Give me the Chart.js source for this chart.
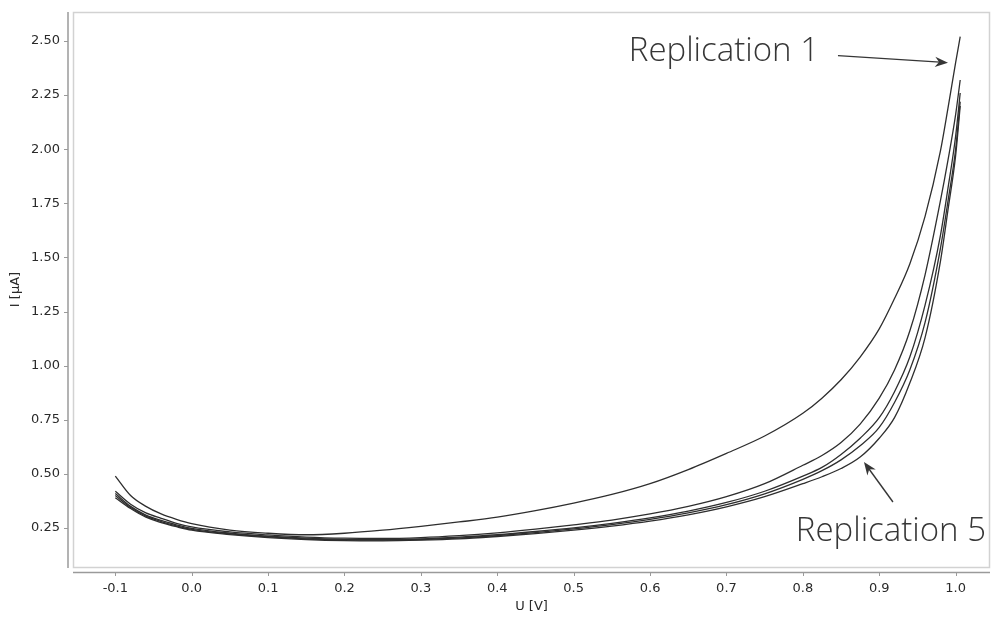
<!DOCTYPE html>
<html>
<head>
<meta charset="utf-8">
<script src="https://cdn.jsdelivr.net/npm/chart.js@4"></script>
<style>
  html, body { margin: 0; padding: 0; background: #fff; }
  #wrap { width: 992px; height: 617px; }
</style>
</head>
<body>
<div id="wrap"><canvas id="grafico"></canvas></div>
<script>
// U [V] grid shared by all replications
const tensao = [-0.1, -0.08, -0.06, -0.04, -0.02, 0.0, 0.05, 0.1, 0.15, 0.2, 0.25, 0.3, 0.35, 0.4, 0.45, 0.5, 0.55, 0.6, 0.65, 0.7, 0.75, 0.8, 0.825, 0.85, 0.875, 0.9, 0.92, 0.94, 0.96, 0.98, 0.99, 1.0, 1.006]

// I [uA] per replication
const rep1 = [0.49, 0.40, 0.35, 0.315, 0.29, 0.27, 0.24, 0.226, 0.219, 0.226, 0.24, 0.258, 0.278, 0.30, 0.33, 0.365, 0.405, 0.455, 0.52, 0.595, 0.675, 0.78, 0.85, 0.935, 1.04, 1.17, 1.31, 1.47, 1.69, 1.99, 2.19, 2.40, 2.52]
const rep2 = [0.42, 0.36, 0.32, 0.295, 0.272, 0.255, 0.232, 0.218, 0.208, 0.203, 0.202, 0.206, 0.215, 0.228, 0.245, 0.265, 0.287, 0.315, 0.35, 0.395, 0.455, 0.54, 0.585, 0.645, 0.73, 0.85, 0.98, 1.16, 1.42, 1.76, 1.95, 2.16, 2.32]
const rep3 = [0.41, 0.35, 0.31, 0.285, 0.265, 0.248, 0.226, 0.212, 0.203, 0.198, 0.197, 0.20, 0.208, 0.219, 0.234, 0.251, 0.272, 0.297, 0.328, 0.368, 0.42, 0.49, 0.53, 0.59, 0.665, 0.76, 0.88, 1.04, 1.28, 1.60, 1.82, 2.06, 2.26]
const rep4 = [0.40, 0.345, 0.305, 0.28, 0.26, 0.244, 0.223, 0.209, 0.20, 0.195, 0.194, 0.197, 0.204, 0.215, 0.229, 0.246, 0.266, 0.29, 0.32, 0.358, 0.408, 0.475, 0.515, 0.565, 0.63, 0.715, 0.83, 0.98, 1.20, 1.54, 1.76, 2.00, 2.22]
const rep5 = [0.39, 0.34, 0.30, 0.275, 0.256, 0.24, 0.22, 0.206, 0.197, 0.192, 0.191, 0.194, 0.20, 0.211, 0.224, 0.24, 0.259, 0.282, 0.311, 0.348, 0.395, 0.455, 0.487, 0.525, 0.578, 0.665, 0.76, 0.92, 1.13, 1.48, 1.72, 1.97, 2.20]

const nomes = ['Replication 1', 'Replication 2', 'Replication 3', 'Replication 4', 'Replication 5']
const series = [rep1, rep2, rep3, rep4, rep5]

const xTicks = [-0.1, 0.0, 0.1, 0.2, 0.3, 0.4, 0.5, 0.6, 0.7, 0.8, 0.9, 1.0]
const yTicks = [0.25, 0.50, 0.75, 1.00, 1.25, 1.50, 1.75, 2.00, 2.25, 2.50]

// annotation anchors (data coords of arrow tips)
const notas = [
  {texto: 'Replication 1', ponta: [0.99, 2.40]},
  {texto: 'Replication 5', ponta: [0.88, 0.555]}
]

const datasets = series.map((s, i) => ({
  label: nomes[i],
  data: tensao.map((u, k) => ({x: u, y: s[k]})),
  showLine: true,
  borderColor: '#2e2e2e',
  borderWidth: 1.3,
  pointRadius: 0,
  cubicInterpolationMode: 'monotone',
  fill: false
}))

function seta(c, x1, y1, x2, y2) {
  const ang = Math.atan2(y2 - y1, x2 - x1)
  c.beginPath()
  c.moveTo(x1, y1)
  c.lineTo(x2 - 8 * Math.cos(ang), y2 - 8 * Math.sin(ang))
  c.stroke()
  c.beginPath()
  c.moveTo(x2, y2)
  c.lineTo(x2 - 14 * Math.cos(ang - 0.38), y2 - 14 * Math.sin(ang - 0.38))
  c.lineTo(x2 - 9 * Math.cos(ang), y2 - 9 * Math.sin(ang))
  c.lineTo(x2 - 14 * Math.cos(ang + 0.38), y2 - 14 * Math.sin(ang + 0.38))
  c.closePath()
  c.fill()
}

const moldura = {
  id: 'moldura',
  beforeDatasetsDraw(chart) {
    const c = chart.ctx
    const a = chart.chartArea
    const sx = chart.scales.x, sy = chart.scales.y
    c.save()
    // light plot frame
    c.strokeStyle = '#d2d2d2'
    c.lineWidth = 1.5
    c.strokeRect(a.left + 0.5, a.top + 0.5, a.right - a.left - 1, a.bottom - a.top)
    // detached axis lines
    c.strokeStyle = '#9a9a9a'
    c.lineWidth = 1.5
    c.beginPath()
    c.moveTo(a.left - 5, a.top)
    c.lineTo(a.left - 5, a.bottom + 1)
    c.moveTo(a.left, a.bottom + 5.5)
    c.lineTo(a.right, a.bottom + 5.5)
    c.stroke()
    c.lineWidth = 1
    c.beginPath()
    sy.ticks.forEach(t => {
      const py = Math.round(sy.getPixelForValue(t.value)) + 0.5
      c.moveTo(a.left - 5, py)
      c.lineTo(a.left - 9, py)
    })
    sx.ticks.forEach(t => {
      const px = Math.round(sx.getPixelForValue(t.value)) + 0.5
      c.moveTo(px, a.bottom + 5)
      c.lineTo(px, a.bottom + 9)
    })
    c.stroke()
    c.restore()
  },
  afterDraw(chart) {
    const c = chart.ctx
    const sx = chart.scales.x, sy = chart.scales.y
    c.save()
    c.fillStyle = '#363636'
    c.strokeStyle = '#363636'
    c.lineWidth = 1.4
    c.font = '300 33px "Open Sans"'
    c.textBaseline = 'alphabetic'
    // Replication 1
    let tx = sx.getPixelForValue(notas[0].ponta[0])
    let ty = sy.getPixelForValue(notas[0].ponta[1])
    c.textAlign = 'right'
    c.fillText(notas[0].texto, tx - 129, ty - 2)
    seta(c, tx - 110, ty - 7, tx, ty)
    // Replication 5
    tx = sx.getPixelForValue(notas[1].ponta[0])
    ty = sy.getPixelForValue(notas[1].ponta[1])
    c.textAlign = 'right'
    c.fillText(notas[1].texto, 986, ty + 79)
    seta(c, tx + 29, ty + 40, tx, ty)
    c.restore()
  }
}

const fonteEixo = {family: '"DejaVu Sans", Verdana, sans-serif', size: 13}

new Chart(document.getElementById('grafico'), {
  type: 'scatter',
  data: {datasets: datasets},
  options: {
    responsive: true,
    maintainAspectRatio: false,
    animation: false,
    layout: {padding: {top: 12, right: 2, left: 0, bottom: 0}},
    plugins: {legend: {display: false}, tooltip: {enabled: false}},
    scales: {
      x: {
        type: 'linear',
        min: -0.1554,
        max: 1.045,
        afterFit: s => { s.height = 50; s.paddingLeft = 0; s.paddingRight = 0 },
        afterBuildTicks: s => { s.ticks = xTicks.map(v => ({value: v})) },
        grid: {display: false, drawTicks: false},
        border: {display: false},
        ticks: {
          padding: 14,
          color: '#2a2a2a',
          font: fonteEixo,
          callback: v => v.toFixed(1)
        },
        title: {display: true, text: 'U [V]', color: '#2a2a2a', font: fonteEixo, padding: {top: 0, bottom: 3}}
      },
      y: {
        type: 'linear',
        min: 0.07,
        max: 2.634,
        afterFit: s => { s.width = 73; s.paddingTop = 0; s.paddingBottom = 0 },
        afterBuildTicks: s => { s.ticks = yTicks.map(v => ({value: v})) },
        grid: {display: false, drawTicks: false},
        border: {display: false},
        ticks: {
          padding: 13,
          color: '#2a2a2a',
          font: fonteEixo,
          callback: v => v.toFixed(2)
        },
        title: {display: true, text: 'I [µA]', color: '#2a2a2a', font: fonteEixo, padding: {top: 8, bottom: 0}}
      }
    }
  },
  plugins: [moldura]
})
</script>
</body>
</html>
